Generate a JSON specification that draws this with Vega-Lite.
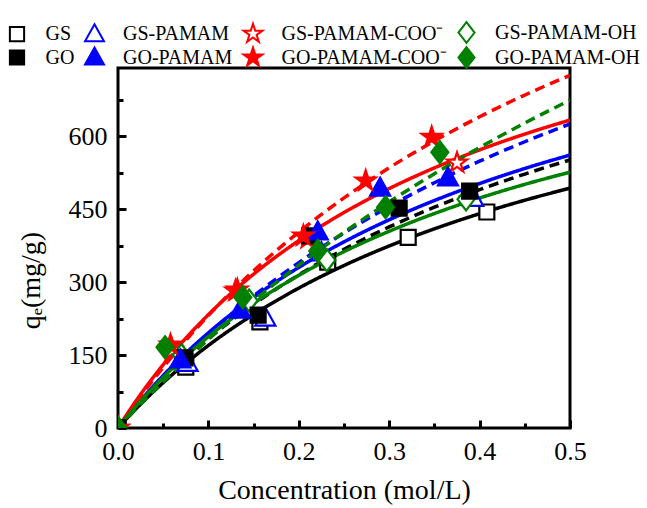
{
  "$schema": "https://vega.github.io/schema/vega-lite/v6.json",
  "width": 452,
  "height": 360,
  "autosize": {"type": "none"},
  "padding": {"left": 118, "top": 68, "right": 77, "bottom": 80},
  "background": "white",
  "config": {
    "view": {"stroke": "black", "strokeWidth": 3},
    "axis": {
      "grid": false,
      "domain": false,
      "tickColor": "black",
      "tickWidth": 3,
      "labelFlush": false,
      "labelFont": "Liberation Serif",
      "labelFontSize": 26,
      "labelColor": "black",
      "titleFont": "Liberation Serif",
      "titleFontWeight": "normal",
      "titleColor": "black"
    },
    "legend": {
      "title": null,
      "orient": "none",
      "legendX": -111.5,
      "legendY": -46,
      "padding": 0,
      "columns": 4,
      "direction": "horizontal",
      "gridAlign": "each",
      "columnPadding": 6.5,
      "rowPadding": -7,
      "symbolSize": 360,
      "symbolStrokeWidth": 2,
      "labelFont": "Liberation Serif",
      "labelFontSize": 20,
      "labelColor": "black",
      "labelOffset": 18,
      "labelLimit": 300
    }
  },
  "datasets": {
    "curves": [
      {"s":"GS","c":0,"q":0},{"s":"GS","c":0.02,"q":39.7},{"s":"GS","c":0.05,"q":93.3},{"s":"GS","c":0.1,"q":169.7},{"s":"GS","c":0.15,"q":233.5},{"s":"GS","c":0.2,"q":287.6},{"s":"GS","c":0.25,"q":334.0},{"s":"GS","c":0.3,"q":374.2},{"s":"GS","c":0.35,"q":409.4},{"s":"GS","c":0.4,"q":440.5},{"s":"GS","c":0.45,"q":468.2},{"s":"GS","c":0.5,"q":493.0},
      {"s":"GO","c":0,"q":0},{"s":"GO","c":0.02,"q":42.4},{"s":"GO","c":0.05,"q":100.2},{"s":"GO","c":0.1,"q":183.7},{"s":"GO","c":0.15,"q":254.3},{"s":"GO","c":0.2,"q":314.9},{"s":"GO","c":0.25,"q":367.3},{"s":"GO","c":0.3,"q":413.3},{"s":"GO","c":0.35,"q":453.8},{"s":"GO","c":0.4,"q":489.8},{"s":"GO","c":0.45,"q":522.0},{"s":"GO","c":0.5,"q":551.0},
      {"s":"GS-PAMAM","c":0,"q":0},{"s":"GS-PAMAM","c":0.02,"q":46.0},{"s":"GS-PAMAM","c":0.05,"q":107.9},{"s":"GS-PAMAM","c":0.1,"q":195.7},{"s":"GS-PAMAM","c":0.15,"q":268.6},{"s":"GS-PAMAM","c":0.2,"q":330.1},{"s":"GS-PAMAM","c":0.25,"q":382.6},{"s":"GS-PAMAM","c":0.3,"q":428.0},{"s":"GS-PAMAM","c":0.35,"q":467.6},{"s":"GS-PAMAM","c":0.4,"q":502.5},{"s":"GS-PAMAM","c":0.45,"q":533.5},{"s":"GS-PAMAM","c":0.5,"q":561.1},
      {"s":"GO-PAMAM","c":0,"q":0},{"s":"GO-PAMAM","c":0.02,"q":43.4},{"s":"GO-PAMAM","c":0.05,"q":103.7},{"s":"GO-PAMAM","c":0.1,"q":193.2},{"s":"GO-PAMAM","c":0.15,"q":271.3},{"s":"GO-PAMAM","c":0.2,"q":340.0},{"s":"GO-PAMAM","c":0.25,"q":400.9},{"s":"GO-PAMAM","c":0.3,"q":455.4},{"s":"GO-PAMAM","c":0.35,"q":504.2},{"s":"GO-PAMAM","c":0.4,"q":548.4},{"s":"GO-PAMAM","c":0.45,"q":588.4},{"s":"GO-PAMAM","c":0.5,"q":625.0},
      {"s":"GS-PAMAM-COO⁻","c":0,"q":0},{"s":"GS-PAMAM-COO⁻","c":0.02,"q":56.0},{"s":"GS-PAMAM-COO⁻","c":0.05,"q":130.2},{"s":"GS-PAMAM-COO⁻","c":0.1,"q":233.0},{"s":"GS-PAMAM-COO⁻","c":0.15,"q":316.3},{"s":"GS-PAMAM-COO⁻","c":0.2,"q":385.1},{"s":"GS-PAMAM-COO⁻","c":0.25,"q":442.9},{"s":"GS-PAMAM-COO⁻","c":0.3,"q":492.2},{"s":"GS-PAMAM-COO⁻","c":0.35,"q":534.7},{"s":"GS-PAMAM-COO⁻","c":0.4,"q":571.7},{"s":"GS-PAMAM-COO⁻","c":0.45,"q":604.2},{"s":"GS-PAMAM-COO⁻","c":0.5,"q":633.0},
      {"s":"GO-PAMAM-COO⁻","c":0,"q":0},{"s":"GO-PAMAM-COO⁻","c":0.02,"q":52.6},{"s":"GO-PAMAM-COO⁻","c":0.05,"q":125.0},{"s":"GO-PAMAM-COO⁻","c":0.1,"q":231.4},{"s":"GO-PAMAM-COO⁻","c":0.15,"q":323.1},{"s":"GO-PAMAM-COO⁻","c":0.2,"q":402.8},{"s":"GO-PAMAM-COO⁻","c":0.25,"q":472.9},{"s":"GO-PAMAM-COO⁻","c":0.3,"q":534.9},{"s":"GO-PAMAM-COO⁻","c":0.35,"q":590.1},{"s":"GO-PAMAM-COO⁻","c":0.4,"q":639.7},{"s":"GO-PAMAM-COO⁻","c":0.45,"q":684.4},{"s":"GO-PAMAM-COO⁻","c":0.5,"q":725.0},
      {"s":"GS-PAMAM-OH","c":0,"q":0},{"s":"GS-PAMAM-OH","c":0.02,"q":44.5},{"s":"GS-PAMAM-OH","c":0.05,"q":104.1},{"s":"GS-PAMAM-OH","c":0.1,"q":187.7},{"s":"GS-PAMAM-OH","c":0.15,"q":256.4},{"s":"GS-PAMAM-OH","c":0.2,"q":313.8},{"s":"GS-PAMAM-OH","c":0.25,"q":362.6},{"s":"GS-PAMAM-OH","c":0.3,"q":404.4},{"s":"GS-PAMAM-OH","c":0.35,"q":440.8},{"s":"GS-PAMAM-OH","c":0.4,"q":472.7},{"s":"GS-PAMAM-OH","c":0.45,"q":500.8},{"s":"GS-PAMAM-OH","c":0.5,"q":525.9},
      {"s":"GO-PAMAM-OH","c":0,"q":0},{"s":"GO-PAMAM-OH","c":0.02,"q":39.2},{"s":"GO-PAMAM-OH","c":0.05,"q":95.2},{"s":"GO-PAMAM-OH","c":0.1,"q":182.1},{"s":"GO-PAMAM-OH","c":0.15,"q":261.6},{"s":"GO-PAMAM-OH","c":0.2,"q":334.8},{"s":"GO-PAMAM-OH","c":0.25,"q":402.3},{"s":"GO-PAMAM-OH","c":0.3,"q":464.7},{"s":"GO-PAMAM-OH","c":0.35,"q":522.6},{"s":"GO-PAMAM-OH","c":0.4,"q":576.5},{"s":"GO-PAMAM-OH","c":0.45,"q":626.8},{"s":"GO-PAMAM-OH","c":0.5,"q":673.9}
    ],
    "points": [
      {"s":"GS","c":0,"q":0},{"s":"GS","c":0.075,"q":125},{"s":"GS","c":0.157,"q":218},{"s":"GS","c":0.232,"q":341},{"s":"GS","c":0.321,"q":392},{"s":"GS","c":0.408,"q":444},
      {"s":"GS-PAMAM","c":0,"q":0},{"s":"GS-PAMAM","c":0.077,"q":133},{"s":"GS-PAMAM","c":0.163,"q":226},{"s":"GS-PAMAM","c":0.225,"q":360},{"s":"GS-PAMAM","c":0.393,"q":472},
      {"s":"GS-PAMAM-COO⁻","c":0,"q":0},{"s":"GS-PAMAM-COO⁻","c":0.06,"q":160},{"s":"GS-PAMAM-COO⁻","c":0.13,"q":282},{"s":"GS-PAMAM-COO⁻","c":0.21,"q":390},{"s":"GS-PAMAM-COO⁻","c":0.375,"q":545},
      {"s":"GS-PAMAM-OH","c":0,"q":0},{"s":"GS-PAMAM-OH","c":0.07,"q":150},{"s":"GS-PAMAM-OH","c":0.145,"q":262},{"s":"GS-PAMAM-OH","c":0.231,"q":345},{"s":"GS-PAMAM-OH","c":0.385,"q":470},
      {"s":"GO","c":0,"q":0},{"s":"GO","c":0.074,"q":144},{"s":"GO","c":0.155,"q":232},{"s":"GO","c":0.212,"q":395},{"s":"GO","c":0.311,"q":452},{"s":"GO","c":0.389,"q":487},
      {"s":"GO-PAMAM","c":0,"q":0},{"s":"GO-PAMAM","c":0.069,"q":140},{"s":"GO-PAMAM","c":0.135,"q":242},{"s":"GO-PAMAM","c":0.221,"q":403},{"s":"GO-PAMAM","c":0.29,"q":493},{"s":"GO-PAMAM","c":0.365,"q":514},
      {"s":"GO-PAMAM-COO⁻","c":0,"q":0},{"s":"GO-PAMAM-COO⁻","c":0.058,"q":171},{"s":"GO-PAMAM-COO⁻","c":0.132,"q":284},{"s":"GO-PAMAM-COO⁻","c":0.205,"q":395},{"s":"GO-PAMAM-COO⁻","c":0.274,"q":508},{"s":"GO-PAMAM-COO⁻","c":0.347,"q":598},
      {"s":"GO-PAMAM-OH","c":0,"q":0},{"s":"GO-PAMAM-OH","c":0.052,"q":166},{"s":"GO-PAMAM-OH","c":0.138,"q":269},{"s":"GO-PAMAM-OH","c":0.221,"q":364},{"s":"GO-PAMAM-OH","c":0.296,"q":454},{"s":"GO-PAMAM-OH","c":0.356,"q":567}
    ]
  },
  "encoding": {
    "x": {
      "field": "c", "type": "quantitative",
      "scale": {"domain": [0, 0.5], "nice": false, "zero": false},
      "axis": {
        "values": [0, 0.05, 0.1, 0.15, 0.2, 0.25, 0.3, 0.35, 0.4, 0.45, 0.5],
        "labelExpr": "round(datum.value*20)%2===0 ? format(datum.value,'.1f') : ''",
        "tickSize": {"condition": {"test": "round(datum.value*20)%2===0", "value": -8}, "value": -5},
        "labelPadding": 18,
        "title": "Concentration (mol/L)",
        "titleFontSize": 28,
        "titlePadding": 12
      }
    },
    "y": {
      "field": "q", "type": "quantitative",
      "scale": {"domain": [0, 740], "nice": false},
      "axis": {
        "values": [0, 75, 150, 225, 300, 375, 450, 525, 600, 675],
        "labelExpr": "datum.value%150===0 ? datum.value : ''",
        "tickSize": {"condition": {"test": "datum.value%150===0", "value": -8}, "value": -5},
        "labelPadding": 19,
        "title": "qₑ(mg/g)",
        "titleFontSize": 28,
        "titleAngle": -90,
        "titleAlign": "center",
        "titleBaseline": "middle",
        "titleX": -87,
        "titleY": 212
      }
    }
  },
  "layer": [
    {
      "data": {"name": "curves"},
      "mark": {"type": "line", "strokeWidth": 3.5, "interpolate": "monotone", "clip": true},
      "encoding": {
        "color": {
          "field": "s", "type": "nominal", "legend": null,
          "scale": {
            "domain": ["GO", "GO-PAMAM", "GO-PAMAM-COO⁻", "GO-PAMAM-OH", "GS", "GS-PAMAM", "GS-PAMAM-COO⁻", "GS-PAMAM-OH"],
            "range": ["#000000", "#0000ff", "#ff0000", "#008000", "#000000", "#0000ff", "#ff0000", "#008000"]
          }
        },
        "strokeDash": {
          "field": "s", "type": "nominal", "legend": null,
          "scale": {
            "domain": ["GO", "GO-PAMAM", "GO-PAMAM-COO⁻", "GO-PAMAM-OH", "GS", "GS-PAMAM", "GS-PAMAM-COO⁻", "GS-PAMAM-OH"],
            "range": [[10, 6], [10, 6], [10, 6], [10, 6], [1, 0], [1, 0], [1, 0], [1, 0]]
          }
        }
      }
    },
    {
      "data": {"name": "points"},
      "mark": {"type": "point", "filled": false, "size": 400, "strokeWidth": 2.2, "opacity": 1, "fillOpacity": 1, "clip": true},
      "encoding": {
        "shape": {
          "field": "s", "type": "nominal",
          "scale": {
            "domain": ["GS", "GS-PAMAM", "GS-PAMAM-COO⁻", "GS-PAMAM-OH", "GO", "GO-PAMAM", "GO-PAMAM-COO⁻", "GO-PAMAM-OH"],
            "range": [
              "M-0.75,-0.75L0.75,-0.75L0.75,0.75L-0.75,0.75Z",
              "M0,-1.05L1,0.75L-1,0.75Z",
              "M0,-1.05L0.236,-0.324L0.999,-0.324L0.381,0.124L0.617,0.849L0,0.401L-0.617,0.849L-0.381,0.124L-0.999,-0.324L-0.236,-0.324Z",
              "M0,-1.1L0.85,0L0,1.1L-0.85,0Z",
              "M-0.75,-0.75L0.75,-0.75L0.75,0.75L-0.75,0.75Z",
              "M0,-1.05L1,0.75L-1,0.75Z",
              "M0,-1.05L0.236,-0.324L0.999,-0.324L0.381,0.124L0.617,0.849L0,0.401L-0.617,0.849L-0.381,0.124L-0.999,-0.324L-0.236,-0.324Z",
              "M0,-1.1L0.85,0L0,1.1L-0.85,0Z"
            ]
          }
        },
        "stroke": {
          "field": "s", "type": "nominal",
          "scale": {
            "domain": ["GS", "GS-PAMAM", "GS-PAMAM-COO⁻", "GS-PAMAM-OH", "GO", "GO-PAMAM", "GO-PAMAM-COO⁻", "GO-PAMAM-OH"],
            "range": ["#000000", "#0000ff", "#ff0000", "#008000", "#000000", "#0000ff", "#ff0000", "#008000"]
          }
        },
        "fill": {
          "field": "s", "type": "nominal",
          "scale": {
            "domain": ["GS", "GS-PAMAM", "GS-PAMAM-COO⁻", "GS-PAMAM-OH", "GO", "GO-PAMAM", "GO-PAMAM-COO⁻", "GO-PAMAM-OH"],
            "range": ["#ffffff", "#ffffff", "#ffffff", "#ffffff", "#000000", "#0000ff", "#ff0000", "#008000"]
          }
        }
      }
    }
  ]
}
